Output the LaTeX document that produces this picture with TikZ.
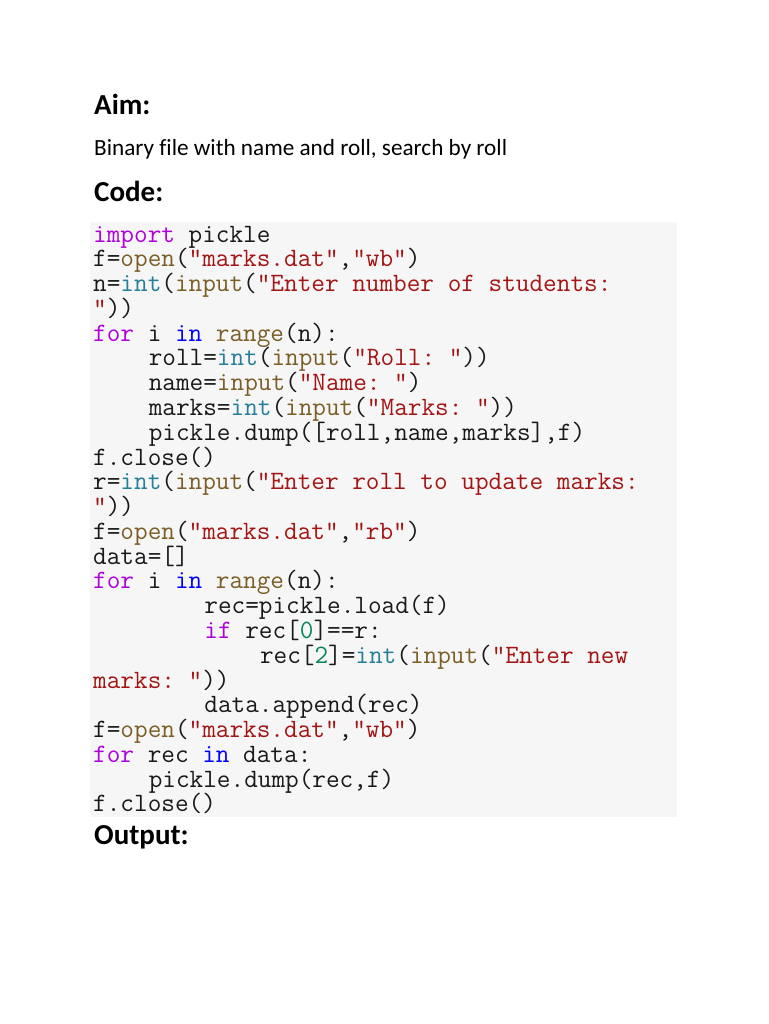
\documentclass[tikz,border=0pt]{standalone}
\usepackage{fontspec}
\setmainfont{Carlito}[Ligatures={NoCommon}]
\frenchspacing
\definecolor{pykwc}{HTML}{AF00DB}
\definecolor{pyfnc}{HTML}{795E26}
\definecolor{pytyc}{HTML}{267F99}
\definecolor{pystc}{HTML}{A31515}
\definecolor{pynmc}{HTML}{098658}
\definecolor{pyinc}{HTML}{0000FF}
\definecolor{codebg}{HTML}{F6F6F6}
\newcommand{\pykw}[1]{\textcolor{pykwc}{#1}}
\newcommand{\pyfn}[1]{\textcolor{pyfnc}{#1}}
\newcommand{\pyty}[1]{\textcolor{pytyc}{#1}}
\newcommand{\pyst}[1]{\textcolor{pystc}{#1}}
\newcommand{\pynm}[1]{\textcolor{pynmc}{#1}}
\newcommand{\pyin}[1]{\textcolor{pyinc}{#1}}
\tikzset{
  codeline/.style={inner sep=0pt, anchor=base west, font=\ttfamily\frenchspacing\fontsize{26.48}{24.78}\selectfont, text=black!90},
  heading/.style={inner sep=0pt, anchor=base west, font=\bfseries\fontsize{29}{32}\selectfont},
  bodytext/.style={inner sep=0pt, anchor=base west, font=\fontsize{23.2}{26}\selectfont},
}
\begin{document}
\begin{tikzpicture}[x=1pt,y=-1pt]
\useasboundingbox (0,0) rectangle (768,1024);
\fill[white] (0,0) rectangle (768,1024);
\node[heading] (aim) at (94,115) {Aim:};
\node[bodytext] (aimtext) at (94,156) {Binary file with name and roll, search by roll};
\node[heading] (code) at (94,202) {Code:};
\fill[codebg] (90,222) rectangle (677,817);
\def\cw{13.9}
\def\bl#1{242+24.78*#1}
\node[codeline] (l0) at (93,{\bl{0}}) {\pykw{import} pickle};
\node[codeline] (l1) at (93,{\bl{1}}) {f=\pyfn{open}(\pyst{"marks.dat"},\pyst{"wb"})};
\node[codeline] (l2) at (93,{\bl{2}}) {n=\pyty{int}(\pyfn{input}(\pyst{"Enter number of students:}};
\node[codeline] (l3) at (93,{\bl{3}}) {\pyst{"}))};
\node[codeline] (l4) at (93,{\bl{4}}) {\pykw{for} i \pyin{in} \pyfn{range}(n):};
\node[codeline] (l5) at ({93+4*\cw},{\bl{5}}) {roll=\pyty{int}(\pyfn{input}(\pyst{"Roll: "}))};
\node[codeline] (l6) at ({93+4*\cw},{\bl{6}}) {name=\pyfn{input}(\pyst{"Name: "})};
\node[codeline] (l7) at ({93+4*\cw},{\bl{7}}) {marks=\pyty{int}(\pyfn{input}(\pyst{"Marks: "}))};
\node[codeline] (l8) at ({93+4*\cw},{\bl{8}}) {pickle.dump([roll,name,marks],f)};
\node[codeline] (l9) at (93,{\bl{9}}) {f.close()};
\node[codeline] (l10) at (93,{\bl{10}}) {r=\pyty{int}(\pyfn{input}(\pyst{"Enter roll to update marks:}};
\node[codeline] (l11) at (93,{\bl{11}}) {\pyst{"}))};
\node[codeline] (l12) at (93,{\bl{12}}) {f=\pyfn{open}(\pyst{"marks.dat"},\pyst{"rb"})};
\node[codeline] (l13) at (93,{\bl{13}}) {data=[]};
\node[codeline] (l14) at (93,{\bl{14}}) {\pykw{for} i \pyin{in} \pyfn{range}(n):};
\node[codeline] (l15) at ({93+8*\cw},{\bl{15}}) {rec=pickle.load(f)};
\node[codeline] (l16) at ({93+8*\cw},{\bl{16}}) {\pykw{if} rec[\pynm{0}]==r:};
\node[codeline] (l17) at ({93+12*\cw},{\bl{17}}) {rec[\pynm{2}]=\pyty{int}(\pyfn{input}(\pyst{"Enter new}};
\node[codeline] (l18) at (93,{\bl{18}}) {\pyst{marks: "}))};
\node[codeline] (l19) at ({93+8*\cw},{\bl{19}}) {data.append(rec)};
\node[codeline] (l20) at (93,{\bl{20}}) {f=\pyfn{open}(\pyst{"marks.dat"},\pyst{"wb"})};
\node[codeline] (l21) at (93,{\bl{21}}) {\pykw{for} rec \pyin{in} data:};
\node[codeline] (l22) at ({93+4*\cw},{\bl{22}}) {pickle.dump(rec,f)};
\node[codeline] (l23) at (93,{\bl{23}}) {f.close()};
\node[heading] (output) at (94,844) {Output:};
\end{tikzpicture}
\end{document}
